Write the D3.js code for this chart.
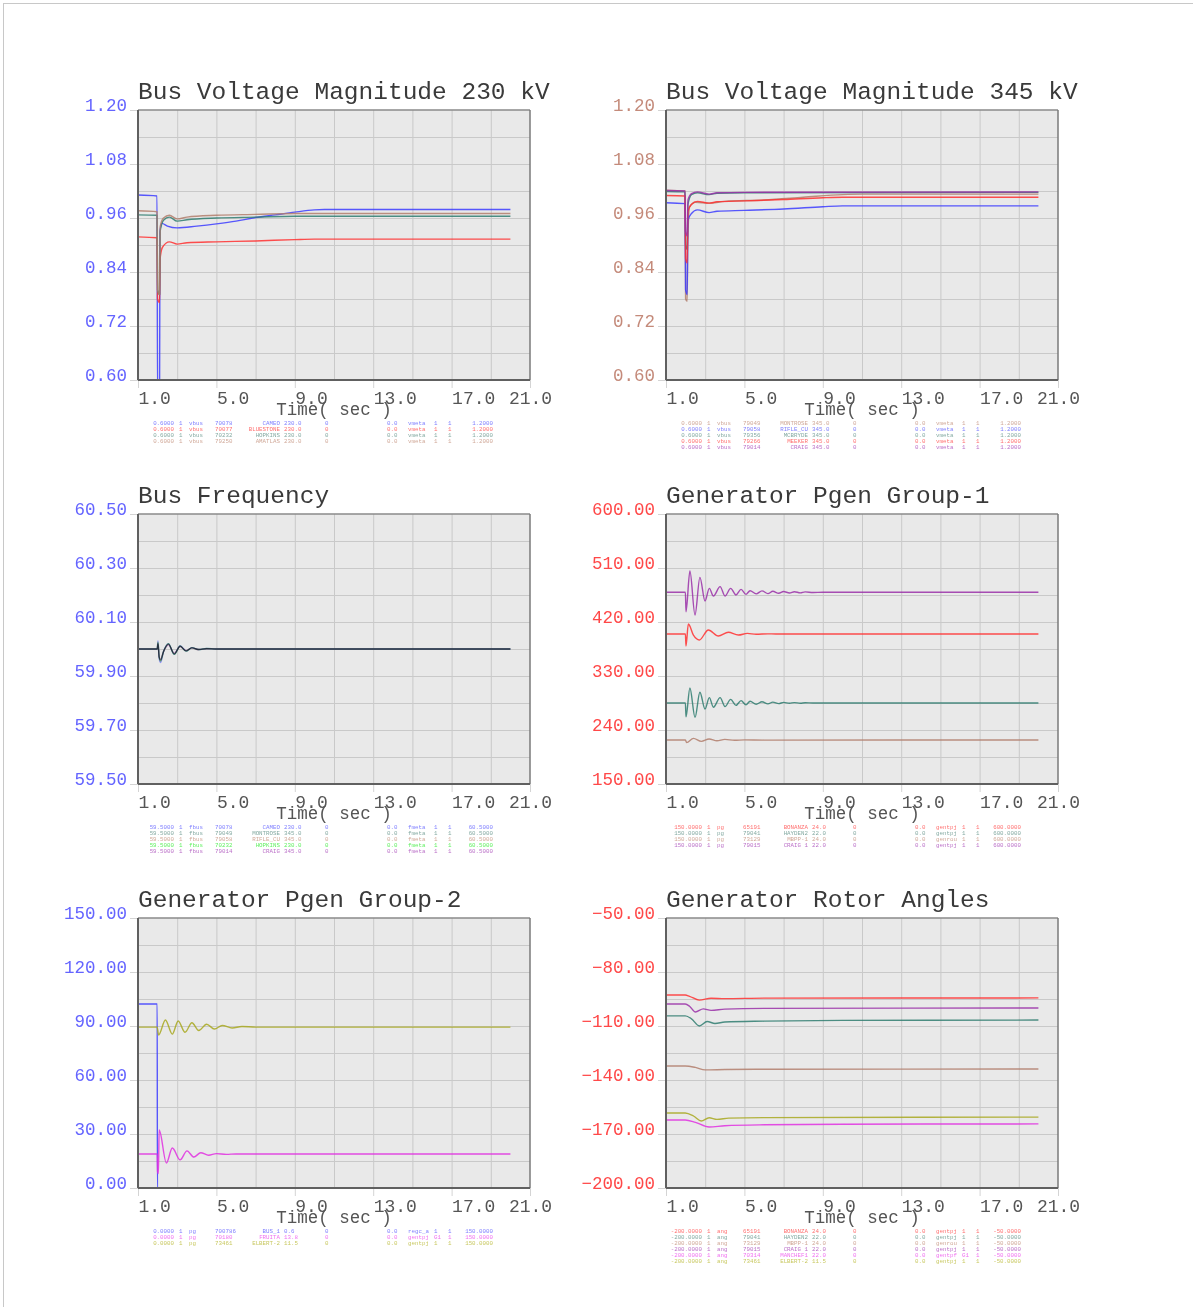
<!DOCTYPE html>
<html><head><meta charset="utf-8">
<script src="https://cdn.jsdelivr.net/npm/d3@7"></script>
<style>
html,body{margin:0;padding:0;background:#fff;}
svg{display:block;}
text{font-family:"Liberation Mono","DejaVu Sans Mono",monospace;}
</style></head><body>
<svg id="chart" width="1193" height="1307"></svg>
<script>
// ---- axis ticks ----
const timeTicks = [1, 5, 9, 13, 17, 21];
const v230Ticks = [0.60, 0.72, 0.84, 0.96, 1.08, 1.20];
const v345Ticks = [0.60, 0.72, 0.84, 0.96, 1.08, 1.20];
const freqTicks = [59.5, 59.7, 59.9, 60.1, 60.3, 60.5];
const pg1Ticks = [150, 240, 330, 420, 510, 600];
const pg2Ticks = [0, 30, 60, 90, 120, 150];
const angTicks = [-200, -170, -140, -110, -80, -50];

// ---- Bus voltage 230 kV (time s, pu) ----
const vCameo = [[1,1.011],[1.97,1.009],[2.0,0.55],[2.1,0.55],[2.12,0.93],[2.22,0.948],[2.5,0.942],[3.0,0.938],[4.0,0.942],[5.0,0.947],[6.0,0.953],[7.0,0.961],[8.0,0.967],[9.0,0.973],[10.0,0.978],[10.5,0.979],[20,0.979]];
const vBluestone = [[1,0.918],[1.97,0.916],[2.0,0.78],[2.1,0.772],[2.13,0.87],[2.25,0.895],[2.6,0.907],[3.0,0.902],[3.5,0.905],[5,0.907],[7,0.909],[9,0.912],[10,0.913],[20,0.913]];
const vHopkins = [[1,0.967],[1.97,0.966],[2.0,0.80],[2.1,0.79],[2.13,0.93],[2.3,0.955],[2.6,0.962],[3.0,0.953],[3.5,0.956],[5,0.960],[7,0.962],[9,0.964],[20,0.964]];
const vAmatlas = [[1,0.976],[1.97,0.974],[2.0,0.80],[2.1,0.79],[2.13,0.94],[2.3,0.960],[2.6,0.966],[3.0,0.958],[3.5,0.962],[5,0.966],[7,0.968],[9,0.970],[20,0.970]];

// ---- Bus voltage 345 kV ----
const vMontrose = [[1,1.022],[1.97,1.020],[2.0,0.78],[2.08,0.775],[2.11,0.90],[2.2,0.985],[2.5,0.995],[3.2,0.993],[4,0.997],[6,1.000],[8,1.006],[10,1.012],[11,1.013],[20,1.013]];
const vRifle = [[1,0.994],[1.97,0.992],[2.0,0.80],[2.08,0.79],[2.12,0.955],[2.3,0.970],[2.6,0.978],[3.2,0.972],[3.6,0.975],[5,0.977],[7,0.980],[9,0.985],[10,0.987],[20,0.987]];
const vMcbryde = [[1,1.019],[1.97,1.018],[2.0,0.90],[2.08,0.89],[2.12,0.99],[2.3,1.012],[2.6,1.016],[3.2,1.012],[3.6,1.015],[5,1.016],[20,1.017]];
const vMeeker = [[1,1.010],[1.97,1.009],[2.0,0.87],[2.08,0.86],[2.12,0.975],[2.3,0.990],[2.6,0.997],[3.2,0.993],[3.6,0.996],[5,0.998],[7,1.001],[9,1.005],[10,1.006],[20,1.006]];
const vCraig = [[1,1.021],[1.97,1.020],[2.0,0.93],[2.08,0.92],[2.12,1.000],[2.3,1.014],[2.6,1.018],[3.2,1.013],[3.6,1.016],[5,1.017],[20,1.018]];

// ---- Bus frequency (Hz) ----
const fCameo = [[1,60],[1.98,60],[2.02,60.03],[2.08,59.965],[2.15,59.95],[2.3,59.99],[2.55,60.02],[2.85,59.98],[3.15,60.012],[3.45,59.992],[3.75,60.005],[4.1,59.998],[4.5,60.002],[5,60],[20,60]];
const fMontrose = [[1,60],[1.98,60],[2.02,60.02],[2.08,59.97],[2.15,59.96],[2.3,59.99],[2.55,60.018],[2.85,59.982],[3.15,60.01],[3.45,59.993],[3.75,60.004],[4.1,59.998],[4.5,60.001],[5,60],[20,60]];
const fRifle = [[1,60],[1.98,60],[2.02,60.022],[2.08,59.968],[2.15,59.958],[2.3,59.99],[2.55,60.018],[2.85,59.982],[3.15,60.01],[3.45,59.993],[3.75,60.004],[4.1,59.998],[4.5,60.001],[5,60],[20,60]];
const fHopkins = [[1,60],[1.98,60],[2.02,60.025],[2.08,59.97],[2.15,59.955],[2.3,59.99],[2.55,60.02],[2.85,59.98],[3.15,60.011],[3.45,59.992],[3.75,60.005],[4.1,59.998],[4.5,60.002],[5,60],[20,60]];
const fCraig = [[1,60],[1.98,60],[2.02,60.018],[2.08,59.972],[2.15,59.962],[2.3,59.99],[2.55,60.016],[2.85,59.984],[3.15,60.009],[3.45,59.994],[3.75,60.004],[4.1,59.998],[4.5,60.001],[5,60],[20,60]];

// ---- Generator Pgen group 1 (MW) ----
const pBonanza = [[1,400],[1.99,400],[2.02,380],[2.14,416.7],[2.4,398],[2.7,390],[3.16,406.7],[3.67,396.7],[4.18,402.8],[4.69,398.3],[5.15,401],[5.6,399.6],[6.2,400.2],[7,400],[20,400]];
const pHayden = [[1,285],[1.99,285],[2.02,262],[2.22,310],[2.48,261],[2.73,303],[2.99,275],[3.21,294],[3.42,278],[3.76,294],[4.01,279],[4.30,291],[4.57,281],[4.83,289],[5.08,282],[5.29,288],[5.6,283],[5.9,287],[6.2,283.5],[6.45,286.5],[6.75,284],[7.0,286],[7.3,284.5],[7.55,285.7],[7.85,284.6],[8.1,285.4],[8.5,285],[20,285]];
const pMbpp = [[1,223.3],[1.99,223.3],[2.05,219],[2.4,226],[2.8,221],[3.2,225],[3.6,222],[4.0,224.3],[4.5,222.8],[5,223.6],[6,223.2],[20,223.3]];
const pCraig1 = [[1,469.5],[1.99,469.5],[2.02,437.2],[2.22,505],[2.48,431.7],[2.73,494.4],[2.99,455],[3.21,476.1],[3.42,463.3],[3.76,478.9],[4.01,463.3],[4.30,476],[4.57,465],[4.83,474.4],[5.08,466],[5.29,472.2],[5.6,466.8],[5.9,471.8],[6.2,467.3],[6.45,471.2],[6.75,467.8],[7.0,470.8],[7.3,468.3],[7.55,470.5],[7.85,468.6],[8.1,470.2],[8.5,469.2],[9,469.5],[20,469.5]];

// ---- Generator Pgen group 2 (MW) ----
const pBus1 = [[1,102.2],[1.98,102.2],[1.99,0],[20,0]];
const pFruita = [[1,18.9],[1.98,18.9],[2.0,9],[2.04,8],[2.08,32.2],[2.45,13.9],[2.75,22.2],[3.15,15.6],[3.5,20.6],[3.85,17.2],[4.2,19.6],[4.6,18.2],[5,19.1],[5.5,18.7],[6,18.9],[20,18.9]];
const pElbert = [[1,89.4],[1.98,89.4],[2.05,85],[2.4,93.3],[2.75,85.5],[3.05,92.8],[3.4,86.5],[3.75,91.8],[4.1,87.5],[4.5,91],[4.9,88.3],[5.3,90.3],[5.8,88.9],[6.3,89.7],[7,89.4],[20,89.4]];

// ---- Generator rotor angles (deg) ----
const aBonanza = [[1,-92.8],[1.98,-92.8],[2.2,-93.5],[2.7,-95.6],[3.3,-94.6],[4,-94.8],[6,-94.5],[20,-94.4]];
const aHayden = [[1,-104.4],[1.98,-104.4],[2.3,-106],[2.7,-110],[3.1,-107.5],[3.5,-108.6],[4,-107.8],[6,-107.3],[10,-106.9],[20,-106.7]];
const aMbpp = [[1,-132.2],[1.98,-132.2],[2.5,-133],[3,-134.4],[4,-134.2],[6,-134],[20,-133.9]];
const aCraig1 = [[1,-97.8],[1.98,-97.8],[2.2,-99],[2.5,-102.2],[2.9,-100.5],[3.3,-101.3],[4,-100.6],[6,-100.2],[20,-100]];
const aManchef = [[1,-162.2],[1.98,-162.2],[2.5,-163.5],[3.2,-166.1],[4,-165.4],[6,-164.9],[10,-164.6],[20,-164.4]];
const aElbert = [[1,-158.3],[1.98,-158.3],[2.4,-160],[2.8,-162.8],[3.2,-161],[3.6,-161.9],[4.2,-161.2],[6,-160.9],[20,-160.6]];

// ---- channel tables ----
const legend230 = [
  ["0.6000","1","vbus","70078","CAMEO","230.0","0","0.0","vmeta","1","1","1.2000"],
  ["0.6000","1","vbus","70077","BLUESTONE","230.0","0","0.0","vmeta","1","1","1.2000"],
  ["0.6000","1","vbus","70232","HOPKINS","230.0","0","0.0","vmeta","1","1","1.2000"],
  ["0.6000","1","vbus","79250","AMATLAS","230.0","0","0.0","vmeta","1","1","1.2000"]];
const legend345 = [
  ["0.6000","1","vbus","79049","MONTROSE","345.0","0","0.0","vmeta","1","1","1.2000"],
  ["0.6000","1","vbus","79058","RIFLE_CU","345.0","0","0.0","vmeta","1","1","1.2000"],
  ["0.6000","1","vbus","79356","MCBRYDE","345.0","0","0.0","vmeta","1","1","1.2000"],
  ["0.6000","1","vbus","79266","MEEKER","345.0","0","0.0","vmeta","1","1","1.2000"],
  ["0.6000","1","vbus","79014","CRAIG","345.0","0","0.0","vmeta","1","1","1.2000"]];
const legendFreq = [
  ["59.5000","1","fbus","70078","CAMEO","230.0","0","0.0","fmeta","1","1","60.5000"],
  ["59.5000","1","fbus","79049","MONTROSE","345.0","0","0.0","fmeta","1","1","60.5000"],
  ["59.5000","1","fbus","79058","RIFLE_CU","345.0","0","0.0","fmeta","1","1","60.5000"],
  ["59.5000","1","fbus","70232","HOPKINS","230.0","0","0.0","fmeta","1","1","60.5000"],
  ["59.5000","1","fbus","79014","CRAIG","345.0","0","0.0","fmeta","1","1","60.5000"]];
const legendPg1 = [
  ["150.0000","1","pg","65191","BONANZA","24.0","0","0.0","gentpj","1","1","600.0000"],
  ["150.0000","1","pg","79041","HAYDEN2","22.0","0","0.0","gentpj","1","1","600.0000"],
  ["150.0000","1","pg","73129","MBPP-1","24.0","0","0.0","genrou","1","1","600.0000"],
  ["150.0000","1","pg","79015","CRAIG 1","22.0","0","0.0","gentpj","1","1","600.0000"]];
const legendPg2 = [
  ["0.0000","1","pg","700786","BUS_1","0.6","0","0.0","regc_a","1","1","150.0000"],
  ["0.0000","1","pg","70180","FRUITA","13.8","0","0.0","gentpj","G1","1","150.0000"],
  ["0.0000","1","pg","73461","ELBERT-2","11.5","0","0.0","gentpj","1","1","150.0000"]];
const legendAng = [
  ["-200.0000","1","ang","65191","BONANZA","24.0","0","0.0","gentpj","1","1","-50.0000"],
  ["-200.0000","1","ang","79041","HAYDEN2","22.0","0","0.0","gentpj","1","1","-50.0000"],
  ["-200.0000","1","ang","73129","MBPP-1","24.0","0","0.0","genrou","1","1","-50.0000"],
  ["-200.0000","1","ang","79015","CRAIG 1","22.0","0","0.0","gentpj","1","1","-50.0000"],
  ["-200.0000","1","ang","70314","MANCHEF1","22.0","0","0.0","gentpf","G1","1","-50.0000"],
  ["-200.0000","1","ang","73461","ELBERT-2","11.5","0","0.0","gentpj","1","1","-50.0000"]];

// ---- colours ----
const C = {
  blue:"#3c3cff", red:"#ff3030", teal:"#2f7d70", tan:"#b27e6c",
  purple:"#9a30a8", green:"#30e030", magenta:"#e030e0", olive:"#a8a820"
};
const LEG = {
  blue:"#7f7fff", red:"#ff7070", teal:"#84aaa2", tan:"#d0a898",
  purple:"#bb70c8", green:"#60f060", magenta:"#f070f0", olive:"#c8c860"
};

const panels = [
  {title:"Bus Voltage Magnitude 230 kV", left:138, top:110, domain:[0.6,1.2], ticks:v230Ticks, tickColor:"#6464ff",
   series:[[vCameo,"blue"],[vBluestone,"red"],[vHopkins,"teal"],[vAmatlas,"tan"]], legend:legend230},
  {title:"Bus Voltage Magnitude 345 kV", left:666, top:110, domain:[0.6,1.2], ticks:v345Ticks, tickColor:"#c48a7a",
   series:[[vMontrose,"tan"],[vMcbryde,"teal"],[vRifle,"blue"],[vMeeker,"red"],[vCraig,"purple"]],
   legend:legend345, legendColors:["tan","blue","teal","red","purple"]},
  {title:"Bus Frequency", left:138, top:514, domain:[59.5,60.5], ticks:freqTicks, tickColor:"#6464ff", blend:true,
   series:[[fCameo,"blue"],[fMontrose,"teal"],[fRifle,"tan"],[fHopkins,"green"],[fCraig,"purple"]], legend:legendFreq},
  {title:"Generator Pgen Group-1", left:666, top:514, domain:[150,600], ticks:pg1Ticks, tickColor:"#ff4848",
   series:[[pBonanza,"red"],[pHayden,"teal"],[pMbpp,"tan"],[pCraig1,"purple"]], legend:legendPg1},
  {title:"Generator Pgen Group-2", left:138, top:918, domain:[0,150], ticks:pg2Ticks, tickColor:"#6464ff",
   series:[[pBus1,"blue"],[pFruita,"magenta"],[pElbert,"olive"]], legend:legendPg2},
  {title:"Generator Rotor Angles", left:666, top:918, domain:[-200,-50], ticks:angTicks, tickColor:"#ff4848",
   series:[[aBonanza,"red"],[aHayden,"teal"],[aMbpp,"tan"],[aCraig1,"purple"],[aManchef,"magenta"],[aElbert,"olive"]], legend:legendAng}
];

const W = 392, H = 270;
const svg = d3.select("#chart");

// page frame
svg.append("line").attr("x1",3.5).attr("x2",3.5).attr("y1",3).attr("y2",1307).attr("stroke","#c8c8c8");
svg.append("line").attr("x1",3).attr("x2",1193).attr("y1",3.5).attr("y2",3.5).attr("stroke","#c8c8c8");

panels.forEach((p, pi) => {
  const g = svg.append("g");
  const x = d3.scaleLinear().domain([1, 21]).range([p.left, p.left + W]);
  const y = d3.scaleLinear().domain(p.domain).range([p.top + H, p.top]);

  g.append("rect").attr("x", p.left).attr("y", p.top).attr("width", W).attr("height", H).attr("fill", "#e9e9e9");

  // grid
  const gridT = d3.range(3, 21, 2);
  const [d0, d1] = p.domain;
  const gridV = d3.range(1, 10).map(i => d0 + i * (d1 - d0) / 10);
  g.append("g").attr("transform", `translate(0,${p.top + H})`)
    .call(d3.axisBottom(x).tickValues(gridT).tickSize(-H).tickFormat(""))
    .call(a => a.select(".domain").remove())
    .call(a => a.selectAll("line").attr("stroke", "#c9c9c9"));
  g.append("g").attr("transform", `translate(${p.left},0)`)
    .call(d3.axisLeft(y).tickValues(gridV).tickSize(-W).tickFormat(""))
    .call(a => a.select(".domain").remove())
    .call(a => a.selectAll("line").attr("stroke", "#c9c9c9"));

  // y axis labels
  const ya = g.append("g").attr("transform", `translate(${p.left},0)`)
    .call(d3.axisLeft(y).tickValues(p.ticks).tickSize(8).tickPadding(3).tickFormat(d3.format(".2f")));
  ya.select(".domain").remove();
  ya.selectAll("line").attr("stroke", "#d4d4d4");
  ya.selectAll("text").attr("font-size", 17.5).attr("dy", "0.02em").attr("fill", p.tickColor)
    .attr("font-family", '"Liberation Mono", monospace');

  // x axis labels
  const xa = g.append("g").attr("transform", `translate(0,${p.top + H})`)
    .call(d3.axisBottom(x).tickValues(timeTicks).tickSize(8).tickPadding(3).tickFormat(d3.format(".1f")));
  xa.select(".domain").remove();
  xa.selectAll("line").attr("stroke", "#d4d4d4");
  xa.selectAll("text").attr("font-size", 18).attr("fill", "#555").attr("text-anchor", d => d === 21 ? "middle" : "start")
    .attr("font-family", '"Liberation Mono", monospace');

  // clip
  const cid = "clip" + pi;
  svg.append("clipPath").attr("id", cid).append("rect")
    .attr("x", p.left).attr("y", p.top).attr("width", W).attr("height", H);

  const line = d3.line().x(d => x(d[0])).y(d => y(d[1])).curve(d3.curveMonotoneX);
  g.append("g").attr("clip-path", `url(#${cid})`)
    .selectAll("path").data(p.series).join("path")
    .attr("d", d => line(d[0])).attr("fill", "none")
    .attr("stroke", d => C[d[1]]).attr("stroke-width", 1.4).attr("stroke-opacity", p.blend ? 0.5 : 0.85)
    .attr("stroke-linejoin", "round")
    .style("mix-blend-mode", p.blend ? "multiply" : null);

  // frame
  g.append("line").attr("x1", p.left).attr("x2", p.left + W).attr("y1", p.top).attr("y2", p.top).attr("stroke", "#8a8a8a").attr("stroke-width", 1.5);
  g.append("line").attr("x1", p.left + W).attr("x2", p.left + W).attr("y1", p.top).attr("y2", p.top + H).attr("stroke", "#7a7a7a").attr("stroke-width", 1.5);
  g.append("line").attr("x1", p.left).attr("x2", p.left).attr("y1", p.top).attr("y2", p.top + H).attr("stroke", "#606060").attr("stroke-width", 2);
  g.append("line").attr("x1", p.left).attr("x2", p.left + W).attr("y1", p.top + H).attr("y2", p.top + H).attr("stroke", "#606060").attr("stroke-width", 2);

  // title
  g.append("text").attr("x", p.left).attr("y", p.top - 11).attr("font-size", 24.5).attr("fill", "#3a3a3a")
    .text(p.title);
  g.append("text").attr("x", p.left + W / 2).attr("y", p.top + H + 35).attr("font-size", 17.5).attr("fill", "#555")
    .attr("text-anchor", "middle").text("Time( sec )");

  // channel table
  const cols = [[36,"end"],[41,"start"],[51,"start"],[77,"start"],[142,"end"],[146,"start"],[187,"start"],[249,"start"],[270,"start"],[296,"start"],[310,"start"],[355,"end"]];
  const legColors = p.legendColors || p.series.map(s => s[1]);
  const lg = g.append("g").attr("font-size", 5.8);
  p.legend.forEach((row, ri) => {
    const ry = p.top + H + 44.5 + ri * 6.1;
    lg.append("g").selectAll("text").data(row).join("text")
      .attr("x", (d, i) => p.left + cols[i][0]).attr("y", ry)
      .attr("text-anchor", (d, i) => cols[i][1])
      .attr("fill", LEG[legColors[ri]])
      .text(d => d);
  });
});
</script>
</body></html>
